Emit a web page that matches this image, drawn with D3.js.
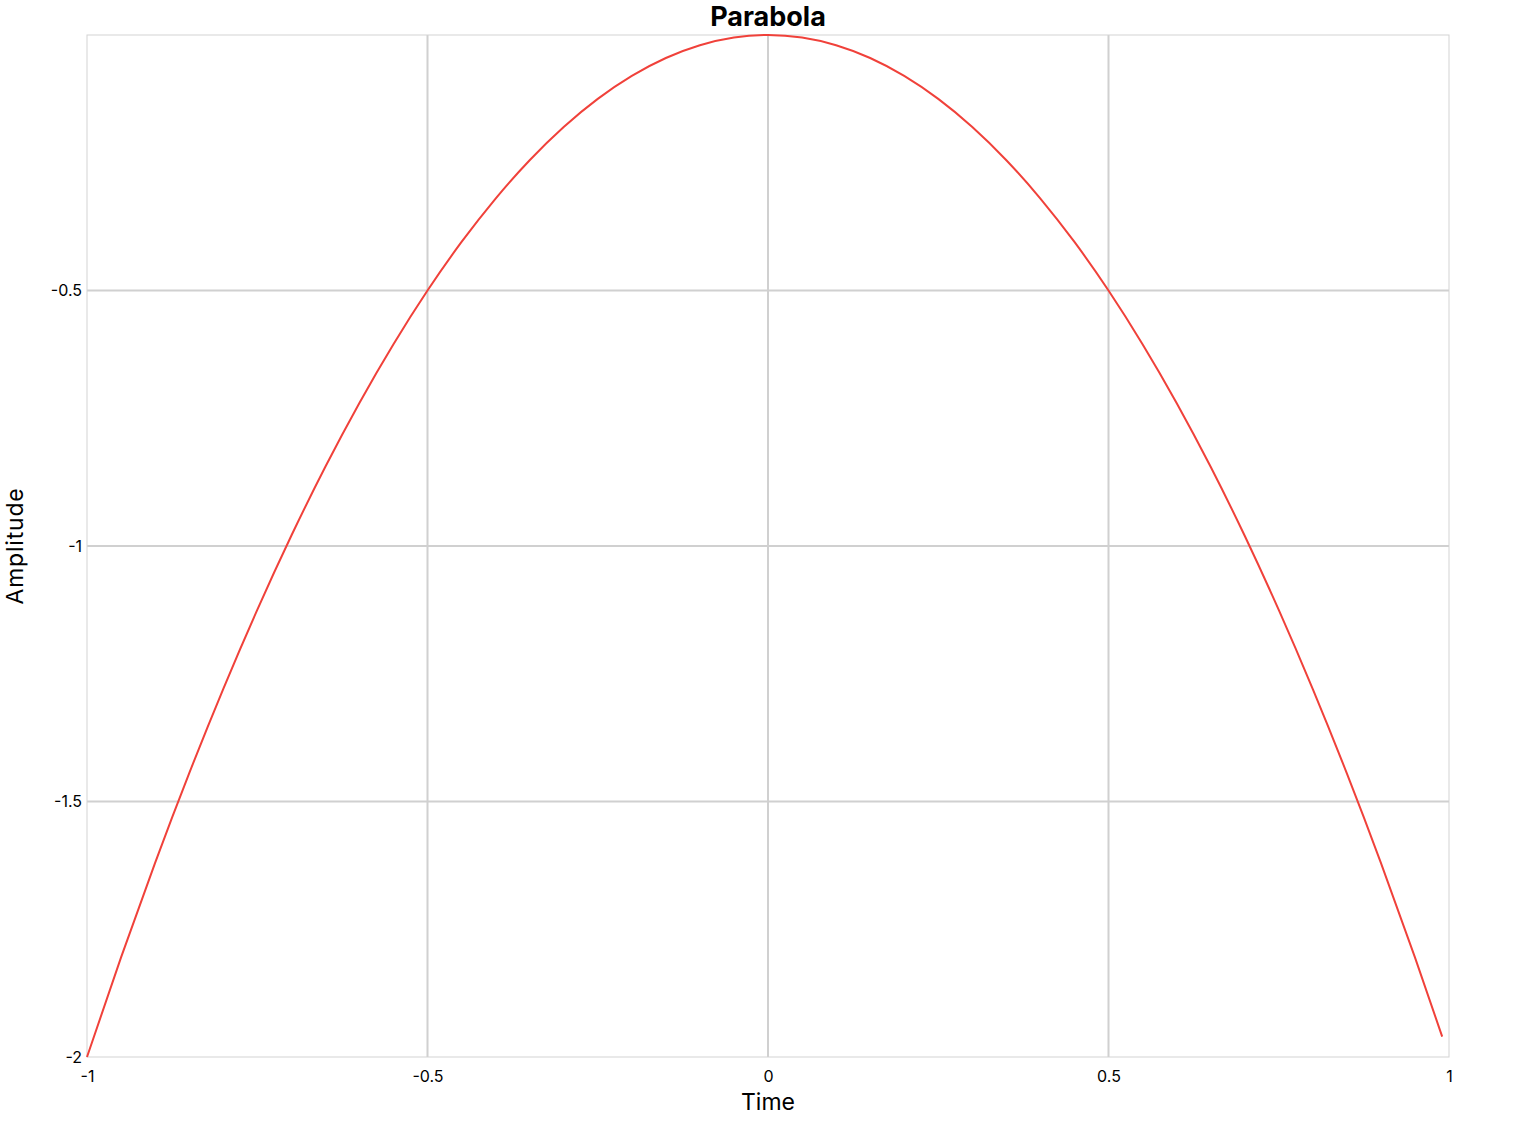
<!DOCTYPE html>
<html>
<head>
<meta charset="utf-8">
<script src="https://cdn.jsdelivr.net/npm/d3@7"></script>
<style>
  body { margin: 0; background: #fff; }
  text { font-family: Inter, "Noto Sans", sans-serif; fill: #000; }
</style>
</head>
<body>
<div id="chart"></div>
<script>
// values
var time = [-1, -0.95, -0.9, -0.85, -0.8, -0.75, -0.7, -0.65, -0.6, -0.55, -0.5,
            -0.45, -0.4, -0.35, -0.3, -0.25, -0.2, -0.15, -0.1, -0.05, 0,
            0.05, 0.1, 0.15, 0.2, 0.25, 0.3, 0.35, 0.4, 0.45, 0.5,
            0.55, 0.6, 0.65, 0.7, 0.75, 0.8, 0.85, 0.9, 0.95, 0.99];
var amplitude = [-2, -1.805, -1.62, -1.445, -1.28, -1.125, -0.98, -0.845, -0.72, -0.605, -0.5,
                 -0.405, -0.32, -0.245, -0.18, -0.125, -0.08, -0.045, -0.02, -0.005, 0,
                 -0.005, -0.02, -0.045, -0.08, -0.125, -0.18, -0.245, -0.32, -0.405, -0.5,
                 -0.605, -0.72, -0.845, -0.98, -1.125, -1.28, -1.445, -1.62, -1.805, -1.96];
var xTicks = [-1, -0.5, 0, 0.5, 1];
var yTicks = [-2, -1.5, -1, -0.5];

var width = 1536;
var height = 1121;
var margin = {top: 35, right: 87, bottom: 64, left: 87};

var x = d3.scaleLinear()
    .domain([-1, 1])
    .range([margin.left, width - margin.right]);

var y = d3.scaleLinear()
    .domain([-2, 0])
    .range([height - margin.bottom, margin.top]);

var svg = d3.select("#chart")
    .append("svg")
    .attr("width", width)
    .attr("height", height);

// grid
svg.append("g")
    .selectAll("line")
    .data(xTicks.slice(1, -1))
    .enter().append("line")
    .attr("x1", function(d) { return x(d); })
    .attr("x2", function(d) { return x(d); })
    .attr("y1", margin.top)
    .attr("y2", height - margin.bottom)
    .attr("stroke", "#d0d0d0")
    .attr("stroke-width", 2);

svg.append("g")
    .selectAll("line")
    .data(yTicks.slice(1))
    .enter().append("line")
    .attr("x1", margin.left)
    .attr("x2", width - margin.right)
    .attr("y1", function(d) { return y(d); })
    .attr("y2", function(d) { return y(d); })
    .attr("stroke", "#d0d0d0")
    .attr("stroke-width", 2);

// frame
svg.append("rect")
    .attr("x", margin.left)
    .attr("y", margin.top)
    .attr("width", width - margin.left - margin.right)
    .attr("height", height - margin.top - margin.bottom)
    .attr("fill", "none")
    .attr("stroke", "#d3d3d3")
    .attr("stroke-width", 1);

// axes
var xAxis = svg.append("g")
    .attr("transform", "translate(0," + (height - margin.bottom) + ")")
    .call(d3.axisBottom(x).tickValues(xTicks).tickSize(0).tickPadding(14)
        .tickFormat(function(d) { return d; }));

var yAxis = svg.append("g")
    .attr("transform", "translate(" + margin.left + ",0)")
    .call(d3.axisLeft(y).tickValues(yTicks).tickSize(0).tickPadding(5)
        .tickFormat(function(d) { return d; }));

[xAxis, yAxis].forEach(function(g) {
  g.select(".domain").remove();
  g.selectAll("text").attr("font-size", 16).attr("font-family", "Inter, sans-serif").attr("fill", "#000");
});

// line
var line = d3.line()
    .x(function(d, i) { return x(time[i]); })
    .y(function(d) { return y(d); })
    .curve(d3.curveMonotoneX);

svg.append("path")
    .datum(amplitude)
    .attr("fill", "none")
    .attr("stroke", "#f0413a")
    .attr("stroke-width", 2)
    .attr("d", line);

// titles
svg.append("text")
    .attr("x", width / 2)
    .attr("y", 26)
    .attr("text-anchor", "middle")
    .attr("font-size", 27)
    .attr("font-weight", "bold")
    .text("Parabola");

svg.append("text")
    .attr("x", x(0))
    .attr("y", 1110)
    .attr("text-anchor", "middle")
    .attr("font-size", 23)
    .text("Time");

svg.append("text")
    .attr("transform", "translate(23," + y(-1) + ") rotate(-90)")
    .attr("text-anchor", "middle")
    .attr("font-size", 23)
    .attr("letter-spacing", 0.8)
    .text("Amplitude");
</script>
</body>
</html>
